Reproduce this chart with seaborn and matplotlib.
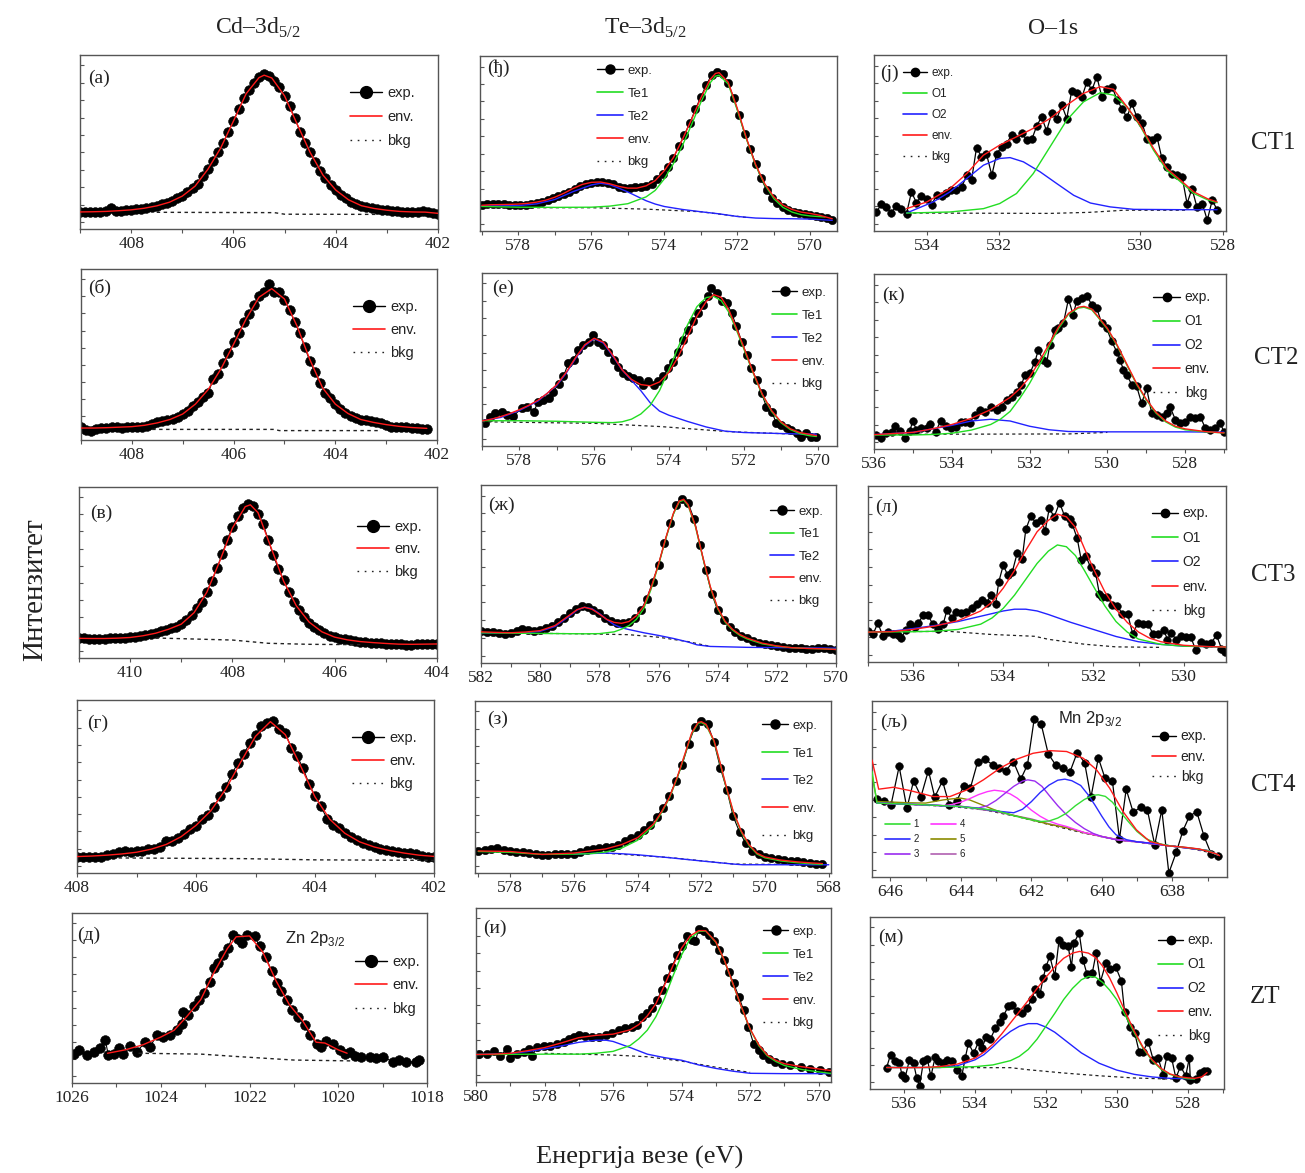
import numpy as np
import matplotlib
matplotlib.use("Agg")
import matplotlib.pyplot as plt
from matplotlib.lines import Line2D
from matplotlib.ticker import MultipleLocator, FixedLocator
import seaborn as sns

# ---------------- Cd-3d5/2 ----------------
A_RANGE = (409.0, 402.0)
A_EXP = [9.8, 9.8, 9.9, 9.9, 10.0, 10.1, 11.8, 10.5, 10.6, 10.8,
         11.1, 11.4, 11.7, 12.1, 12.7, 13.4, 14.1, 15.0, 16.0, 17.6,
         19.2, 21.0, 23.4, 26.0, 30.4, 34.4, 38.9, 44.2, 49.3, 55.8,
         62.2, 68.8, 75.1, 79.9, 84.0, 87.5, 88.9, 88.2, 85.0, 81.8,
         76.5, 70.5, 63.8, 56.0, 49.2, 44.0, 38.6, 33.5, 29.1, 25.2,
         22.2, 19.6, 17.6, 15.5, 14.1, 13.3, 12.5, 12.0, 11.5, 11.1,
         10.8, 10.5, 10.2, 10.0, 9.8, 9.8, 9.8, 10.3, 9.6, 9.1,
         8.8]
A_ENV = [(409.0, 9.8), (408.75, 9.9), (408.5, 10.1), (408.25, 10.5), (408.0, 11.0), (407.75, 11.9),
         (407.5, 13.3), (407.25, 15.4), (407.0, 18.9), (406.75, 24.6), (406.5, 34.3), (406.25, 46.5),
         (406.0, 62.0), (405.75, 77.8), (405.5, 87.0), (405.4, 88.4), (405.25, 86.8), (405.0, 76.5),
         (404.75, 60.0), (404.5, 44.0), (404.25, 31.0), (404.0, 22.4), (403.75, 16.8), (403.5, 13.4),
         (403.25, 11.8), (403.0, 10.8), (402.75, 10.1), (402.5, 9.8), (402.25, 9.7), (402.0, 9.0)]
A_BKG = [(407.5, 9.6), (405.2, 9.4), (405.0, 8.5), (403.2, 8.4)]

B_RANGE = (409.0, 402.2)
B_EXP = [7.8, 6.0, 5.5, 6.2, 6.8, 7.0, 7.6, 7.8, 7.2, 7.6,
         7.4, 7.8, 7.6, 8.4, 9.4, 10.7, 11.0, 11.7, 12.4, 13.4,
         15.0, 17.2, 19.8, 22.2, 25.4, 27.3, 35.8, 38.4, 44.8, 51.1,
         57.5, 62.8, 69.0, 73.8, 79.2, 84.0, 86.5, 91.0, 86.8, 86.7,
         82.0, 76.0, 69.2, 62.4, 54.2, 46.2, 39.5, 33.6, 27.6, 24.7,
         20.8, 18.2, 16.0, 14.3, 13.0, 11.8, 11.5, 11.2, 10.8, 10.0,
         8.6, 7.8, 7.6, 7.4, 7.4, 7.0, 6.8, 6.5, 6.2]
B_ENV = [(409.0, 7.0), (408.75, 7.0), (408.5, 7.2), (408.25, 7.5), (408.0, 7.8), (407.75, 8.6),
         (407.5, 10.0), (407.25, 12.0), (407.0, 15.2), (406.75, 21.0), (406.5, 29.5), (406.25, 41.5),
         (406.0, 56.0), (405.75, 71.0), (405.5, 83.5), (405.25, 88.5), (405.0, 82.5), (404.75, 66.5),
         (404.5, 47.0), (404.25, 30.5), (404.0, 21.0), (403.75, 15.5), (403.5, 12.0), (403.25, 10.3),
         (403.0, 9.0), (402.75, 8.0), (402.5, 7.3), (402.2, 6.8)]
B_BKG = [(407.6, 6.2), (405.2, 6.2), (405.1, 5.5), (403.1, 5.5)]

V_RANGE = (411.0, 404.0)
V_EXP = [11.7, 11.5, 11.4, 11.3, 11.1, 11.3, 11.5, 11.5, 11.7, 11.8,
         12.0, 12.4, 12.8, 13.3, 14.0, 14.6, 15.5, 16.5, 17.3, 18.4,
         19.6, 22.0, 25.2, 29.1, 33.0, 38.8, 45.3, 52.5, 61.0, 69.2,
         76.8, 83.0, 87.5, 90.3, 88.6, 84.2, 78.5, 69.0, 60.0, 52.0,
         45.6, 38.8, 33.0, 28.0, 24.0, 20.6, 18.0, 16.2, 14.4, 13.0,
         12.1, 11.4, 10.9, 10.4, 10.0, 9.6, 9.2, 9.0, 8.8, 8.6,
         8.4, 8.3, 8.1, 7.9, 7.6, 7.8, 8.0, 8.0, 8.1, 8.2,
         8.2]
V_ENV = [(411.0, 11.5), (410.75, 11.4), (410.5, 11.4), (410.25, 11.6), (410.0, 12.0), (409.75, 13.0),
         (409.5, 14.5), (409.25, 16.8), (409.0, 19.8), (408.75, 26.5), (408.5, 38.5), (408.25, 56.5),
         (408.0, 76.0), (407.75, 88.5), (407.65, 89.6), (407.5, 85.0), (407.25, 65.0), (407.0, 45.0),
         (406.75, 30.5), (406.5, 21.0), (406.25, 15.3), (406.0, 12.2), (405.75, 10.6), (405.5, 9.6),
         (405.25, 9.0), (405.0, 8.5), (404.75, 8.1), (404.5, 8.0), (404.25, 8.1), (404.0, 8.2)]
V_BKG = [(409.5, 11.7), (408.0, 10.5), (407.3, 8.6), (406.5, 8.0), (405.5, 7.8)]

G_RANGE = (408.0, 402.0)
G_EXP = [9.2, 9.0, 9.0, 9.2, 9.0, 10.2, 11.0, 12.0, 12.6, 12.4,
         12.5, 13.0, 13.6, 13.9, 15.0, 18.3, 18.5, 20.0, 22.5, 25.2,
         27.3, 31.2, 33.8, 38.0, 44.5, 50.0, 57.0, 63.5, 68.5, 75.0,
         80.0, 85.0, 86.6, 88.0, 83.5, 81.0, 72.5, 67.5, 60.5, 51.5,
         44.5, 38.5, 31.5, 27.6, 26.0, 23.0, 20.8, 19.0, 17.5, 16.0,
         14.8, 14.0, 13.5, 13.0, 12.2, 11.5, 11.6, 11.2, 9.8, 9.4,
         9.2]
G_ENV = [(408.0, 9.5), (407.75, 9.8), (407.5, 10.3), (407.25, 11.0), (407.0, 12.0), (406.75, 13.8),
         (406.5, 16.5), (406.25, 21.0), (406.0, 27.5), (405.75, 36.0), (405.5, 48.5), (405.25, 64.0),
         (405.0, 79.0), (404.75, 87.5), (404.5, 80.0), (404.25, 62.5), (404.0, 44.0), (403.75, 31.0),
         (403.5, 23.0), (403.25, 18.0), (403.0, 15.0), (402.75, 13.0), (402.5, 11.5), (402.25, 10.3),
         (402.0, 9.6)]
G_BKG = [(407.3, 8.7), (405.2, 8.3), (404.0, 7.6), (402.0, 7.3)]

D_EXP = [(1025.96, 16.9), (1025.85, 19.3), (1025.66, 16.3), (1025.51, 18.3), (1025.36, 20.3),
         (1025.25, 25.2), (1025.18, 16.3), (1025.06, 16.9), (1024.95, 20.3), (1024.84, 17.3),
         (1024.69, 21.7), (1024.54, 18.3), (1024.35, 24.2), (1024.24, 21.3), (1024.09, 28.1),
         (1023.94, 27.2), (1023.79, 28.1), (1023.64, 31.1), (1023.53, 35.0), (1023.49, 41.9),
         (1023.38, 40.0), (1023.26, 45.3), (1023.13, 48.8), (1023.02, 52.8), (1022.89, 59.6),
         (1022.81, 67.5), (1022.70, 70.5), (1022.59, 75.4), (1022.48, 79.3), (1022.38, 87.2),
         (1022.27, 84.6), (1022.18, 82.3), (1022.06, 87.2), (1021.88, 86.2), (1021.77, 80.3),
         (1021.63, 74.0), (1021.50, 65.6), (1021.37, 58.7), (1021.28, 54.3), (1021.16, 48.8),
         (1021.05, 42.9), (1020.90, 38.6), (1020.75, 34.1), (1020.64, 28.1), (1020.49, 23.2),
         (1020.38, 21.3), (1020.27, 24.8), (1020.12, 23.2), (1019.97, 19.7), (1019.85, 17.3),
         (1019.74, 18.3), (1019.63, 15.7), (1019.48, 15.4), (1019.29, 15.4), (1019.14, 15.0),
         (1018.99, 15.4), (1018.77, 12.4), (1018.62, 13.4), (1018.47, 12.4), (1018.25, 12.4),
         (1018.17, 13.8)]
D_ENV = [(1025.2, 17.5), (1024.8, 19.5), (1024.4, 22.5), (1024.0, 27.0), (1023.7, 31.0), (1023.4, 39.5),
         (1023.1, 49.0), (1022.8, 65.0), (1022.5, 79.0), (1022.3, 86.0), (1022.0, 86.5), (1021.7, 77.0),
         (1021.4, 60.0), (1021.1, 46.0), (1020.8, 36.5), (1020.5, 24.0), (1020.3, 23.5), (1020.0, 19.5),
         (1019.8, 17.5)]
D_BKG = [(1024.5, 17.5), (1023.1, 17.0), (1022.3, 15.6), (1021.0, 13.5), (1019.7, 13.0)]

# ---------------- Te-3d5/2 ----------------
DJ_RANGE = (579.0, 569.4)
DJ_EXP = [14.7, 15.3, 15.5, 15.3, 15.2, 15.1, 15.0, 15.0, 15.1, 15.3,
          16.1, 16.8, 17.6, 18.6, 20.0, 21.3, 22.3, 24.0, 25.6, 27.0,
          27.6, 28.0, 28.0, 27.4, 26.6, 25.2, 24.5, 24.3, 25.0, 25.3,
          25.5, 26.8, 29.5, 32.8, 36.5, 41.8, 48.5, 55.0, 61.8, 69.5,
          76.6, 83.5, 89.4, 90.9, 89.6, 84.5, 76.0, 66.0, 55.5, 47.0,
          38.5, 30.0, 23.5, 18.8, 15.8, 13.8, 12.2, 10.8, 10.1, 9.6,
          9.2, 8.7, 8.0, 7.2, 6.3]
DJ_ENV = [(579.0, 14.7), (578.75, 15.0), (578.5, 15.1), (578.25, 15.2), (578.0, 15.4), (577.75, 15.8),
          (577.5, 16.5), (577.25, 17.6), (577.0, 19.3), (576.75, 21.6), (576.5, 24.3), (576.25, 26.6),
          (576.0, 27.8), (575.75, 28.0), (575.5, 27.0), (575.25, 25.5), (575.0, 24.5), (574.75, 24.5),
          (574.5, 25.8), (574.25, 28.8), (574.0, 34.5), (573.75, 42.0), (573.5, 52.5), (573.25, 64.0),
          (573.0, 76.0), (572.75, 86.5), (572.6, 90.0), (572.5, 90.5), (572.25, 85.0), (572.0, 70.0),
          (571.75, 53.0), (571.5, 38.0), (571.25, 27.0), (571.0, 19.5), (570.75, 14.8), (570.5, 12.3),
          (570.25, 10.8), (570.0, 10.0), (569.75, 9.0), (569.4, 7.0)]
DJ_TE1 = [(579.0, 14.0), (578.0, 13.6), (577.0, 13.5), (576.0, 13.6), (575.5, 14.2), (575.0, 15.6),
          (574.5, 19.5), (574.25, 23.2), (574.0, 29.8), (573.75, 38.5), (573.5, 49.0), (573.25, 61.0),
          (573.0, 73.5), (572.75, 84.5), (572.6, 88.5), (572.5, 89.0), (572.25, 84.0), (572.0, 69.0),
          (571.75, 52.5), (571.5, 37.5), (571.25, 26.5), (571.0, 18.5), (570.75, 13.5), (570.5, 10.8),
          (570.25, 9.3), (570.0, 8.6), (569.6, 8.0)]
DJ_TE2 = [(579.0, 14.3), (578.0, 14.5), (577.5, 15.5), (577.0, 18.0), (576.5, 22.5), (576.0, 26.3),
          (575.75, 27.3), (575.5, 26.5), (575.25, 24.5), (575.0, 22.3), (574.75, 19.8), (574.5, 17.3),
          (574.25, 15.4), (574.0, 14.0), (573.5, 12.3), (573.0, 11.0), (572.5, 9.8), (572.0, 8.3),
          (571.5, 7.4), (571.0, 7.1), (570.5, 7.0), (570.0, 6.8), (569.4, 6.1)]
DJ_BKG = [(578.0, 13.3), (576.0, 13.3), (574.5, 12.5), (573.0, 11.0), (571.7, 7.6)]

E_EXP = [(578.91, 13.1), (578.78, 17.0), (578.64, 18.9), (578.47, 19.9), (578.33, 18.0), (578.16, 17.4),
         (577.94, 21.8), (577.80, 22.8), (577.62, 19.9), (577.49, 25.7), (577.36, 26.6), (577.22, 27.6),
         (577.09, 31.5), (576.95, 35.9), (576.82, 40.2), (576.69, 47.9), (576.55, 49.8), (576.42, 55.6),
         (576.29, 58.5), (576.15, 60.4), (576.02, 64.3), (575.89, 60.4), (575.75, 58.5), (575.62, 54.6),
         (575.48, 49.8), (575.35, 45.9), (575.22, 42.1), (575.08, 40.2), (574.95, 39.2), (574.81, 38.2),
         (574.68, 35.3), (574.55, 37.3), (574.41, 35.3), (574.28, 37.3), (574.15, 40.2), (574.01, 45.0),
         (573.88, 48.8), (573.75, 54.6), (573.61, 61.4), (573.48, 67.2), (573.35, 72.0), (573.21, 76.8),
         (573.08, 81.7), (572.94, 86.5), (572.86, 91.3), (572.72, 88.4), (572.59, 83.6), (572.45, 82.6),
         (572.32, 76.8), (572.19, 69.1), (572.05, 60.4), (571.92, 52.7), (571.79, 45.0), (571.65, 38.2),
         (571.52, 30.5), (571.39, 22.8), (571.25, 19.9), (571.12, 13.1), (570.99, 12.2), (570.85, 10.2),
         (570.72, 9.3), (570.58, 7.7), (570.45, 5.4), (570.32, 7.3), (570.19, 5.4), (570.05, 5.0)]
E_ENV = [(579.0, 14.5), (578.75, 15.5), (578.5, 17.0), (578.25, 18.8), (578.0, 21.0), (577.75, 23.5),
         (577.5, 26.5), (577.25, 30.5), (577.0, 35.5), (576.75, 42.5), (576.5, 51.0), (576.25, 58.5),
         (576.0, 62.3), (575.75, 60.0), (575.5, 52.5), (575.25, 44.0), (575.0, 38.5), (574.75, 35.5),
         (574.5, 34.8), (574.25, 37.0), (574.0, 42.5), (573.75, 51.5), (573.5, 63.0), (573.25, 75.0),
         (573.0, 83.5), (572.8, 87.5), (572.6, 86.0), (572.4, 79.0), (572.2, 68.5), (572.0, 57.5),
         (571.75, 43.0), (571.5, 30.0), (571.25, 20.5), (571.0, 14.0), (570.75, 10.0), (570.5, 7.8),
         (570.25, 6.8), (570.05, 6.0)]
E_TE1 = [(579.0, 14.6), (578.0, 14.6), (577.0, 14.3), (576.0, 13.7), (575.5, 13.5), (575.25, 14.0),
         (575.0, 15.5), (574.75, 18.5), (574.5, 23.5), (574.25, 32.0), (574.0, 44.0), (573.75, 57.0),
         (573.5, 70.0), (573.25, 80.5), (573.0, 85.8), (572.8, 86.5), (572.6, 84.0), (572.4, 77.5),
         (572.2, 67.5), (572.0, 56.5), (571.75, 42.5), (571.5, 29.5), (571.25, 20.0), (571.0, 13.5),
         (570.75, 9.5), (570.5, 7.2), (570.25, 6.0), (570.05, 5.5)]
E_TE2 = [(579.0, 14.5), (578.5, 16.5), (578.0, 20.5), (577.5, 26.0), (577.0, 35.0), (576.75, 42.0),
         (576.5, 50.5), (576.25, 58.0), (576.0, 62.0), (575.75, 59.5), (575.5, 52.0), (575.25, 44.0),
         (575.0, 38.0), (574.75, 32.0), (574.5, 25.0), (574.25, 20.2), (574.0, 17.8), (573.5, 14.2),
         (573.0, 11.0), (572.5, 8.6), (572.0, 7.8), (571.0, 7.2), (570.05, 6.8)]
E_BKG = [(579.0, 14.0), (576.0, 13.1), (574.2, 11.2), (572.4, 8.3), (570.7, 6.9), (570.1, 6.5)]

ZH_RANGE = (582.0, 570.0)
ZH_EXP = [17.8, 17.5, 17.2, 16.9, 16.5, 16.6, 17.8, 19.0, 18.6, 18.2,
          18.6, 19.5, 21.0, 23.0, 25.5, 28.0, 30.4, 31.8, 31.5, 30.0,
          28.0, 25.5, 23.4, 22.4, 22.4, 23.0, 25.2, 29.5, 36.0, 45.5,
          55.1, 67.5, 78.5, 88.5, 92.3, 89.9, 81.0, 66.5, 52.0, 39.0,
          29.5, 24.2, 20.0, 17.2, 15.4, 14.0, 12.5, 11.3, 10.6, 9.9,
          9.3, 8.9, 8.6, 8.4, 8.2, 8.0, 7.9, 8.2, 8.5, 8.0,
          7.5]
ZH_ENV = [(582.0, 17.5), (581.5, 17.2), (581.0, 17.0), (580.5, 17.4), (580.0, 18.2), (579.5, 21.0),
          (579.0, 27.0), (578.75, 30.0), (578.5, 31.3), (578.25, 30.2), (578.0, 27.5), (577.75, 24.5),
          (577.5, 22.8), (577.25, 22.3), (577.0, 23.3), (576.75, 26.5), (576.5, 32.0), (576.25, 42.5),
          (576.0, 55.5), (575.75, 70.5), (575.5, 84.0), (575.3, 91.0), (575.15, 92.0), (575.0, 89.0),
          (574.75, 77.0), (574.5, 59.5), (574.25, 43.0), (574.0, 31.0), (573.75, 23.5), (573.5, 19.0),
          (573.25, 16.0), (573.0, 14.0), (572.5, 11.2), (572.0, 9.6), (571.5, 8.6), (571.0, 8.2),
          (570.5, 8.0), (570.0, 7.6)]
ZH_TE1 = [(582.0, 17.0), (580.0, 16.6), (578.5, 16.4), (578.0, 16.5), (577.5, 17.5), (577.25, 19.0),
          (577.0, 21.0), (576.75, 24.5), (576.5, 30.5), (576.25, 41.5), (576.0, 55.0), (575.75, 70.0),
          (575.5, 83.5), (575.3, 90.5), (575.15, 91.5), (575.0, 88.5), (574.75, 76.5), (574.5, 59.0),
          (574.25, 42.5), (574.0, 30.5), (573.75, 23.0), (573.5, 18.5), (573.25, 15.5), (573.0, 13.5),
          (572.5, 10.8), (572.0, 9.4), (571.5, 8.6), (571.0, 8.2), (570.5, 8.0), (570.0, 7.6)]
ZH_TE2 = [(582.0, 17.0), (580.5, 17.0), (580.0, 17.8), (579.5, 20.5), (579.0, 26.5), (578.75, 29.8),
          (578.5, 31.3), (578.25, 30.5), (578.0, 27.8), (577.75, 24.5), (577.5, 21.5), (577.25, 19.8),
          (577.0, 18.8), (576.5, 17.0), (576.0, 15.5), (575.5, 13.8), (575.0, 11.8), (574.7, 10.2),
          (574.25, 9.3), (573.0, 8.8), (571.5, 8.6), (570.0, 8.3)]
ZH_BKG = [(582.0, 17.0), (578.5, 16.4), (577.0, 15.9), (576.0, 14.5), (575.0, 12.0), (574.3, 9.5)]

Z_RANGE = (579.0, 568.2)
Z_EXP = [12.8, 13.3, 14.0, 14.4, 13.5, 12.8, 12.5, 12.2, 11.6, 11.1,
         10.6, 10.4, 10.8, 11.2, 11.2, 11.2, 12.2, 13.6, 14.0, 14.4,
         15.0, 15.4, 16.5, 18.5, 20.2, 22.3, 24.8, 27.8, 32.6, 38.0,
         44.5, 53.5, 63.0, 75.0, 85.0, 88.4, 86.5, 76.0, 61.0, 48.5,
         33.0, 23.8, 17.2, 13.0, 10.8, 9.4, 8.5, 8.0, 7.6, 7.2,
         7.0, 6.6, 6.0, 5.4, 5.5]
Z_ENV = [(579.0, 12.8), (578.0, 12.5), (577.0, 10.8), (576.0, 11.6), (575.5, 12.8), (575.0, 14.0),
         (574.5, 16.5), (574.0, 20.5), (573.5, 28.5), (573.25, 35.5), (573.0, 44.0), (572.75, 56.0),
         (572.5, 70.0), (572.3, 81.5), (572.1, 87.5), (572.0, 88.0), (571.85, 86.5), (571.6, 77.0),
         (571.4, 63.5), (571.2, 49.0), (571.0, 36.0), (570.75, 24.5), (570.5, 16.5), (570.25, 11.5),
         (570.0, 9.3), (569.5, 7.5), (569.0, 6.5), (568.5, 5.8), (568.2, 5.5)]
Z_TE1 = [(579.0, 12.5), (578.0, 12.0), (577.0, 10.8), (576.0, 11.0), (575.5, 11.2), (575.0, 12.2),
         (574.5, 14.5), (574.0, 19.0), (573.5, 27.5), (573.25, 35.0), (573.0, 43.5), (572.75, 55.5),
         (572.5, 69.5), (572.3, 81.0), (572.1, 87.0), (572.0, 87.5), (571.85, 86.0), (571.6, 76.5),
         (571.4, 63.0), (571.2, 48.5), (571.0, 35.5), (570.75, 24.0), (570.5, 16.0), (570.25, 11.0),
         (570.0, 8.8), (569.5, 7.0), (569.0, 6.0), (568.5, 5.3), (568.2, 5.0)]
Z_TE2 = [(576.0, 11.0), (575.0, 11.6), (574.5, 11.2), (574.0, 10.6), (573.0, 8.9), (572.0, 7.0),
         (571.0, 5.2), (570.7, 4.8), (568.0, 4.8)]
Z_BKG = [(575.0, 11.5), (573.0, 9.0), (571.0, 5.2), (568.0, 4.8)]

I_EXP = [(579.92, 16.0), (579.68, 16.0), (579.48, 17.9), (579.29, 14.8), (579.10, 19.2), (579.00, 14.0),
         (578.80, 16.3), (578.61, 17.3), (578.46, 18.7), (578.37, 14.8), (578.22, 20.2), (578.03, 20.6),
         (577.83, 20.6), (577.64, 21.7), (577.44, 23.1), (577.30, 25.0), (577.15, 26.0), (577.00, 26.9),
         (576.81, 26.3), (576.61, 26.0), (576.42, 26.0), (576.22, 26.9), (576.03, 27.9), (575.84, 29.8),
         (575.64, 30.8), (575.45, 31.7), (575.30, 32.7), (575.16, 37.5), (575.01, 39.4), (574.86, 42.3),
         (574.72, 47.1), (574.57, 52.9), (574.43, 59.6), (574.28, 66.3), (574.13, 73.1), (573.99, 77.9),
         (573.84, 83.7), (573.70, 81.7), (573.60, 80.8), (573.50, 87.9), (573.36, 86.5), (573.21, 84.6),
         (573.06, 80.8), (572.92, 76.0), (572.77, 70.2), (572.63, 63.5), (572.48, 56.7), (572.33, 49.0),
         (572.19, 41.3), (572.05, 31.7), (571.90, 22.1), (571.75, 18.3), (571.61, 15.4), (571.46, 13.5),
         (571.26, 11.5), (571.07, 10.2), (570.83, 9.6), (570.53, 8.7), (570.24, 7.7), (569.95, 7.1),
         (569.71, 5.8)]
I_ENV = [(580.0, 15.8), (579.5, 16.0), (579.0, 16.5), (578.5, 18.0), (578.0, 19.8), (577.5, 22.5),
         (577.0, 25.5), (576.5, 26.8), (576.0, 27.5), (575.5, 30.0), (575.25, 33.0), (575.0, 38.0),
         (574.75, 45.0), (574.5, 55.5), (574.25, 67.0), (574.0, 77.0), (573.75, 84.0), (573.5, 87.0),
         (573.3, 87.0), (573.0, 80.5), (572.75, 70.0), (572.5, 56.5), (572.25, 43.0), (572.0, 30.5),
         (571.75, 21.5), (571.5, 15.5), (571.25, 12.5), (571.0, 10.5), (570.5, 8.8), (570.0, 7.5),
         (569.6, 6.5)]
I_TE1 = [(580.0, 15.8), (578.0, 16.0), (577.0, 16.0), (576.5, 16.5), (576.0, 17.6), (575.5, 21.0),
         (575.25, 24.8), (575.0, 29.8), (574.75, 37.5), (574.5, 48.0), (574.25, 61.0), (574.0, 73.0),
         (573.75, 82.5), (573.5, 86.5), (573.3, 86.8), (573.0, 80.3), (572.75, 69.8), (572.5, 56.3),
         (572.25, 42.8), (572.0, 30.3), (571.75, 21.0), (571.5, 15.0), (571.25, 11.8), (571.0, 9.5),
         (570.5, 7.2), (570.0, 5.8), (569.6, 4.8)]
I_TE2 = [(580.0, 15.8), (579.0, 16.3), (578.5, 17.5), (578.0, 19.0), (577.5, 20.8), (577.0, 22.8),
         (576.5, 24.0), (576.2, 24.0), (576.0, 23.3), (575.5, 19.8), (575.0, 16.0), (574.5, 14.0),
         (574.0, 12.5), (573.5, 9.8), (573.0, 7.8), (572.5, 6.2), (572.0, 5.0), (571.0, 4.8),
         (569.6, 4.8)]
I_BKG = [(578.0, 16.5), (576.0, 15.5), (575.0, 14.5), (574.0, 12.0), (573.0, 8.5), (572.0, 5.5)]

# ---------------- O-1s ----------------
J_EXP = [(535.02, 10.8), (534.92, 15.2), (534.82, 13.7), (534.72, 10.4), (534.62, 14.0), (534.52, 12.7),
         (534.41, 9.9), (534.31, 22.2), (534.21, 16.1), (534.11, 19.7), (534.00, 18.4), (533.90, 15.0),
         (533.80, 20.3), (533.70, 19.9), (533.60, 21.6), (533.50, 23.5), (533.40, 23.1), (533.29, 25.0),
         (533.19, 31.7), (533.09, 29.2), (532.99, 47.4), (532.89, 42.1), (532.79, 44.0), (532.68, 31.7),
         (532.58, 44.0), (532.48, 47.8), (532.38, 49.7), (532.28, 54.5), (532.18, 52.0), (532.07, 55.4),
         (531.97, 51.6), (531.87, 52.0), (531.77, 59.6), (531.67, 64.9), (531.57, 56.9), (531.46, 67.2),
         (531.36, 63.9), (531.26, 71.5), (531.16, 63.9), (531.06, 79.7), (530.96, 78.2), (530.85, 76.3),
         (530.75, 84.8), (530.65, 80.1), (530.55, 87.7), (530.45, 76.3), (530.35, 80.5), (530.24, 82.0),
         (530.14, 74.4), (530.04, 69.6), (529.94, 64.5), (529.84, 72.5), (529.74, 64.9), (529.63, 61.1),
         (529.53, 52.0), (529.43, 51.6), (529.33, 53.5), (529.23, 41.2), (529.13, 36.4), (529.02, 32.6),
         (528.92, 31.7), (528.82, 30.7), (528.72, 15.6), (528.62, 24.1), (528.52, 13.7), (528.41, 15.6),
         (528.31, 6.1), (528.21, 17.5), (528.11, 12.1)]
J_ENV = [(534.41, 12.7), (534.0, 16.5), (533.53, 24.1), (533.19, 32.6), (532.85, 43.1), (532.52, 48.8),
         (532.18, 53.5), (531.84, 58.3), (531.5, 63.9), (531.16, 71.5), (530.82, 78.2), (530.48, 82.0),
         (530.21, 80.5), (529.94, 70.6), (529.67, 60.2), (529.4, 46.9), (529.13, 35.5), (528.85, 28.8),
         (528.58, 22.2), (528.31, 18.4), (528.11, 16.5)]
J_O1 = [(534.41, 10.2), (533.53, 10.8), (532.85, 12.7), (532.52, 15.6), (532.18, 21.3), (531.84, 32.6),
        (531.5, 47.8), (531.16, 63.0), (530.82, 73.4), (530.48, 78.6), (530.21, 77.2), (529.94, 70.6),
        (529.67, 59.6), (529.4, 45.9), (529.13, 34.5), (528.85, 27.9), (528.58, 21.3), (528.31, 17.8),
        (528.11, 16.1)]
J_O2 = [(534.41, 10.2), (533.87, 16.5), (533.53, 22.2), (533.19, 29.8), (532.85, 37.4), (532.52, 41.2),
        (532.31, 41.7), (532.04, 39.3), (531.7, 33.6), (531.36, 26.9), (531.02, 20.3), (530.68, 15.9),
        (530.28, 13.7), (529.8, 12.3), (528.79, 12.1), (528.11, 12.1)]
J_BKG = [(534.4, 10.2), (531.5, 10.0), (530.7, 10.6), (530.0, 11.8), (528.7, 11.8)]

K_EXP = [(535.94, 8.0), (535.81, 6.1), (535.68, 9.0), (535.55, 9.9), (535.47, 13.2), (535.34, 10.5),
         (535.21, 6.1), (535.08, 10.5), (535.00, 16.0), (534.91, 10.9), (534.78, 11.8), (534.65, 11.8),
         (534.57, 14.3), (534.41, 9.9), (534.29, 16.0), (534.16, 13.2), (534.03, 11.8), (533.90, 12.8),
         (533.77, 15.6), (533.67, 15.6), (533.54, 14.7), (533.41, 19.5), (533.28, 22.3), (533.15, 21.4),
         (532.98, 24.2), (532.85, 22.3), (532.72, 24.2), (532.59, 28.1), (532.46, 30.0), (532.33, 32.8),
         (532.21, 36.6), (532.12, 42.4), (531.99, 43.3), (531.86, 50.0), (531.78, 56.3), (531.65, 51.0),
         (531.56, 49.4), (531.48, 59.5), (531.35, 68.1), (531.26, 69.1), (531.13, 71.9), (531.00, 85.7),
         (530.88, 76.7), (530.79, 84.4), (530.66, 86.3), (530.53, 87.6), (530.40, 82.4), (530.27, 80.5),
         (530.15, 71.9), (530.02, 69.1), (529.89, 61.5), (529.76, 55.7), (529.67, 51.0), (529.59, 45.2),
         (529.50, 42.4), (529.37, 36.6), (529.25, 36.1), (529.12, 26.1), (528.99, 34.7), (528.86, 20.4),
         (528.73, 19.5), (528.60, 18.5), (528.47, 20.4), (528.39, 24.2), (528.25, 16.6), (528.13, 15.1),
         (528.00, 15.6), (527.87, 18.5), (527.74, 17.6), (527.61, 18.5), (527.48, 11.8), (527.36, 10.9),
         (527.23, 11.8), (527.10, 14.7), (527.00, 9.9)]
K_ENV = [(536.0, 8.2), (535.0, 9.5), (534.5, 11.5), (534.0, 14.0), (533.5, 17.5), (533.0, 22.5),
         (532.5, 29.5), (532.25, 34.5), (532.0, 41.0), (531.75, 50.0), (531.5, 60.0), (531.25, 70.0),
         (531.0, 77.5), (530.75, 81.0), (530.6, 81.5), (530.4, 80.0), (530.25, 76.0), (530.0, 69.0),
         (529.75, 59.5), (529.5, 48.5), (529.25, 37.5), (529.0, 28.5), (528.75, 21.0), (528.5, 16.0),
         (528.25, 13.0), (528.0, 11.5), (527.5, 10.0), (527.0, 9.2)]
K_O1 = [(536.0, 8.0), (535.0, 8.0), (534.5, 8.3), (534.0, 9.0), (533.5, 10.8), (533.0, 14.0),
        (532.75, 17.0), (532.5, 21.5), (532.25, 29.0), (532.0, 37.5), (531.75, 47.5), (531.5, 58.5),
        (531.25, 69.0), (531.0, 77.0), (530.75, 80.5), (530.6, 81.0), (530.4, 79.5), (530.25, 75.5),
        (530.0, 68.5), (529.75, 59.0), (529.5, 48.0), (529.25, 37.0), (529.0, 28.0), (528.75, 20.5),
        (528.5, 15.5), (528.25, 12.5), (528.0, 11.0), (527.5, 9.8), (527.0, 9.2)]
K_O2 = [(536.0, 8.2), (535.0, 9.5), (534.5, 11.5), (534.0, 13.5), (533.5, 16.0), (533.0, 17.0),
        (532.5, 16.0), (532.0, 13.0), (531.5, 11.0), (531.0, 10.0), (530.0, 9.8), (528.0, 9.8),
        (527.0, 9.6)]
K_BKG = [(535.5, 8.4), (531.0, 8.6), (530.0, 9.5)]

L_EXP = [(537.00, 17.6), (536.89, 15.7), (536.78, 22.2), (536.67, 14.6), (536.56, 17.1), (536.44, 15.7),
         (536.33, 15.2), (536.26, 13.9), (536.15, 18.4), (536.07, 21.4), (535.96, 19.9), (535.89, 22.2),
         (535.77, 26.6), (535.67, 26.6), (535.56, 21.4), (535.44, 19.0), (535.33, 21.8), (535.25, 29.4),
         (535.14, 25.2), (535.04, 28.5), (534.93, 27.9), (534.82, 28.5), (534.70, 30.9), (534.59, 32.8),
         (534.48, 35.1), (534.36, 33.6), (534.28, 38.0), (534.17, 32.8), (534.10, 45.5), (534.00, 55.0),
         (533.90, 49.3), (533.80, 51.2), (533.69, 62.0), (533.58, 58.8), (533.50, 75.3), (533.39, 82.9),
         (533.28, 79.1), (533.16, 80.6), (533.07, 74.6), (532.98, 87.3), (532.87, 82.5), (532.75, 90.5),
         (532.64, 82.9), (532.53, 81.0), (532.47, 78.4), (532.36, 70.2), (532.27, 57.9), (532.17, 60.2),
         (532.06, 53.7), (531.95, 50.3), (531.87, 38.9), (531.80, 37.0), (531.69, 37.0), (531.58, 32.3),
         (531.47, 31.7), (531.36, 27.5), (531.24, 27.1), (531.13, 16.1), (531.01, 22.2), (530.90, 21.4),
         (530.79, 21.4), (530.67, 15.7), (530.56, 15.7), (530.44, 18.4), (530.36, 12.7), (530.27, 16.5),
         (530.17, 12.7), (530.06, 14.6), (529.95, 14.2), (529.84, 14.2), (529.73, 6.6), (529.61, 11.4),
         (529.50, 10.1), (529.39, 10.8), (529.27, 15.2), (529.16, 7.6), (529.09, 5.7)]
L_ENV = [(537.0, 17.0), (536.5, 17.2), (536.0, 18.5), (535.5, 20.5), (535.0, 23.5), (534.5, 29.0),
         (534.25, 34.0), (534.0, 42.0), (533.75, 52.0), (533.5, 63.5), (533.25, 74.0), (533.0, 80.5),
         (532.8, 84.0), (532.6, 82.5), (532.4, 76.5), (532.2, 64.5), (532.0, 53.0), (531.75, 40.0),
         (531.5, 30.0), (531.25, 22.5), (531.0, 17.0), (530.75, 13.5), (530.5, 11.5), (530.0, 9.5),
         (529.5, 8.8), (529.06, 8.5)]
L_O1 = [(537.0, 17.0), (536.0, 17.2), (535.5, 17.5), (535.0, 18.5), (534.5, 21.5), (534.25, 25.0),
        (534.0, 30.5), (533.75, 38.0), (533.5, 47.0), (533.25, 56.0), (533.0, 63.0), (532.8, 66.5),
        (532.6, 65.5), (532.4, 60.5), (532.2, 52.0), (532.0, 43.0), (531.75, 32.0), (531.5, 23.0),
        (531.25, 17.0), (531.0, 13.0), (530.5, 10.0), (530.0, 9.0), (529.06, 8.5)]
L_O2 = [(537.0, 17.0), (536.5, 17.4), (536.0, 19.0), (535.5, 20.8), (535.0, 23.0), (534.5, 26.0),
        (534.0, 29.0), (533.75, 30.0), (533.5, 30.0), (533.25, 29.0), (533.0, 27.0), (532.5, 22.5),
        (532.0, 18.5), (531.5, 14.5), (531.0, 11.5), (530.5, 10.0), (530.0, 9.0), (529.06, 8.5)]
L_BKG = [(536.0, 17.3), (535.2, 17.4), (534.3, 15.7), (533.3, 14.6), (533.0, 12.9), (532.2, 10.1),
         (531.5, 8.6), (530.5, 8.3)]

LJ_EXP = [(646.38, 44.2), (646.19, 42.9), (645.98, 41.0), (645.75, 62.8), (645.53, 39.1), (645.34, 54.6),
          (645.13, 45.7), (644.92, 60.5), (644.74, 45.4), (644.52, 54.6), (644.33, 41.0), (644.12, 42.9),
          (643.92, 51.8), (643.73, 50.5), (643.52, 65.6), (643.31, 66.9), (643.10, 63.7), (642.92, 61.8),
          (642.73, 60.3), (642.51, 65.6), (642.30, 55.6), (642.11, 63.7), (641.92, 89.6), (641.72, 86.8),
          (641.52, 69.9), (641.31, 63.7), (641.10, 61.8), (640.91, 59.4), (640.70, 70.7), (640.49, 65.0),
          (640.31, 45.2), (640.10, 67.7), (639.91, 56.1), (639.70, 54.3), (639.50, 21.6), (639.31, 49.9),
          (639.11, 36.7), (638.90, 39.7), (638.71, 38.2), (638.50, 18.3), (638.30, 38.2), (638.10, 2.3),
          (637.89, 14.0), (637.70, 26.3), (637.52, 34.4), (637.31, 37.2), (637.10, 23.1), (636.90, 13.2),
          (636.71, 12.1)]
LJ_ENV = [(646.52, 66.5), (646.33, 49.9), (645.91, 51.0), (645.44, 49.1), (644.78, 45.7), (644.31, 45.7),
          (643.83, 49.5), (643.36, 55.2), (642.89, 61.8), (642.42, 66.9), (641.95, 70.3), (641.48, 71.8),
          (641.0, 71.3), (640.53, 67.5), (640.15, 60.9), (639.78, 50.5), (639.4, 37.2), (639.02, 26.8),
          (638.64, 20.2), (638.17, 17.8), (637.7, 17.0), (637.23, 15.9), (636.76, 13.2), (636.66, 12.1)]
LJ_P1 = [(646.52, 60.0), (646.38, 42.0), (645.0, 41.0), (644.0, 40.0), (643.0, 37.8), (642.5, 34.8),
         (642.0, 32.5), (641.75, 31.5), (641.5, 31.8), (641.25, 33.5), (641.0, 36.3), (640.75, 40.5),
         (640.5, 44.0), (640.25, 46.4), (640.1, 46.7), (639.9, 45.8), (639.7, 42.5), (639.5, 37.5),
         (639.25, 31.5), (639.0, 25.8), (638.75, 21.8), (638.5, 19.6), (638.25, 18.4), (638.0, 17.5),
         (637.5, 16.5), (637.0, 15.0), (636.7, 12.5)]
LJ_P2 = [(646.38, 42.0), (645.0, 41.0), (644.0, 40.0), (643.5, 39.0), (643.0, 37.5), (642.75, 37.0),
         (642.5, 36.5), (642.25, 38.5), (642.0, 42.8), (641.75, 48.0), (641.5, 52.2), (641.25, 55.0),
         (641.05, 55.6), (640.85, 54.7), (640.6, 52.0), (640.4, 47.0), (640.2, 41.0), (640.0, 34.5),
         (639.8, 28.5), (639.6, 24.0), (639.3, 21.2), (639.0, 20.0), (638.5, 19.0), (638.0, 17.5),
         (637.0, 15.0), (636.7, 12.5)]
LJ_P3 = [(646.38, 42.0), (645.0, 41.0), (644.0, 40.0), (643.5, 39.2), (643.25, 40.5), (643.0, 43.5),
         (642.75, 47.5), (642.5, 51.5), (642.25, 54.5), (642.1, 55.2), (641.9, 54.5), (641.7, 51.5),
         (641.5, 46.5), (641.25, 40.5), (641.0, 35.3), (640.75, 31.0), (640.5, 27.5), (640.25, 24.8),
         (640.0, 23.0), (639.6, 21.2), (639.0, 20.0), (638.0, 17.5), (637.0, 15.0), (636.7, 12.5)]
LJ_P4 = [(646.38, 42.0), (645.0, 41.0), (644.5, 40.5), (644.25, 41.2), (644.0, 42.5), (643.75, 44.5),
         (643.5, 46.8), (643.25, 48.5), (643.05, 49.3), (642.8, 48.7), (642.6, 47.2), (642.4, 44.8),
         (642.2, 41.5), (642.0, 38.0), (641.75, 34.5), (641.5, 31.8), (641.25, 30.0), (641.0, 28.7),
         (640.5, 25.3), (640.0, 23.0), (639.5, 21.0), (639.0, 20.0), (638.0, 17.5), (637.0, 15.0),
         (636.7, 12.5)]
LJ_P5 = [(646.52, 58.0), (646.38, 42.9), (645.5, 42.2), (645.0, 42.0), (644.75, 42.9), (644.5, 43.8),
         (644.25, 44.4), (644.0, 44.8), (643.75, 43.8), (643.5, 41.8), (643.25, 39.8), (643.0, 37.8),
         (642.5, 35.0), (642.0, 32.5), (641.5, 30.0), (641.0, 28.0), (640.5, 25.2), (640.0, 23.0),
         (639.5, 21.0), (639.0, 20.0), (638.0, 17.5), (637.0, 15.0), (636.7, 12.5)]
LJ_P6 = [(646.38, 42.0), (645.5, 41.3), (645.0, 40.8), (644.5, 40.6), (644.0, 40.3), (643.5, 38.5),
         (643.0, 37.2), (642.5, 35.0), (642.0, 33.0), (641.5, 30.2), (641.0, 28.0), (640.5, 25.2),
         (640.0, 23.0), (639.5, 21.0), (639.0, 20.0), (638.5, 19.0), (638.0, 17.5), (637.5, 16.5),
         (637.0, 15.0), (636.7, 12.5)]
LJ_BKG = [(646.38, 42.0), (644.31, 40.1), (643.36, 38.2), (642.42, 34.4), (641.48, 29.7), (640.53, 25.0),
          (639.59, 21.2), (638.64, 18.9), (637.7, 17.0), (636.76, 13.2)]

M_EXP = [(536.50, 12.5), (536.39, 19.9), (536.26, 16.0), (536.14, 15.4), (536.07, 8.3), (535.98, 6.4),
         (535.86, 16.6), (535.74, 15.1), (535.65, 6.4), (535.57, 1.9), (535.46, 16.0), (535.35, 17.4),
         (535.25, 7.3), (535.13, 18.5), (535.04, 16.0), (534.92, 15.1), (534.80, 17.0), (534.66, 16.0),
         (534.52, 11.2), (534.38, 7.3), (534.28, 18.0), (534.19, 26.6), (534.04, 20.8), (533.90, 27.6),
         (533.81, 23.7), (533.69, 30.1), (533.57, 29.0), (533.43, 35.3), (533.31, 39.2), (533.20, 42.5),
         (533.06, 48.3), (532.96, 48.8), (532.82, 45.6), (532.68, 44.0), (532.54, 46.9), (532.40, 52.1),
         (532.31, 57.9), (532.17, 55.0), (532.08, 64.3), (532.00, 71.0), (531.89, 77.2), (531.75, 65.6),
         (531.63, 86.5), (531.51, 83.6), (531.37, 83.0), (531.28, 71.0), (531.21, 84.9), (531.06, 90.7),
         (530.95, 74.9), (530.84, 66.8), (530.69, 67.6), (530.58, 79.2), (530.46, 62.4), (530.31, 73.0),
         (530.18, 69.5), (530.03, 71.0), (529.87, 62.9), (529.78, 45.0), (529.63, 36.3), (529.49, 32.4),
         (529.37, 21.8), (529.26, 21.8), (529.11, 27.6), (528.97, 17.0), (528.83, 18.0), (528.69, 8.3),
         (528.58, 19.3), (528.45, 18.0), (528.33, 6.4), (528.20, 13.1), (528.05, 7.7), (527.95, 18.0),
         (527.92, 5.4), (527.76, 5.8), (527.66, 9.3), (527.54, 10.2), (527.45, 10.2)]
M_ENV = [(536.5, 12.5), (536.0, 12.4), (535.5, 12.5), (535.0, 13.0), (534.5, 14.5), (534.0, 18.0),
         (533.75, 21.5), (533.5, 26.0), (533.25, 32.0), (533.0, 38.5), (532.75, 45.0), (532.5, 51.5),
         (532.25, 58.5), (532.0, 65.0), (531.75, 71.0), (531.5, 76.0), (531.25, 79.0), (531.05, 80.0),
         (530.8, 79.0), (530.6, 76.5), (530.4, 71.5), (530.2, 64.5), (530.0, 56.0), (529.75, 44.5),
         (529.5, 33.5), (529.25, 24.0), (529.0, 17.0), (528.75, 12.0), (528.5, 8.8), (528.25, 7.2),
         (528.0, 6.5), (527.8, 6.2), (527.6, 7.0), (527.45, 9.5)]
M_O1 = [(536.5, 12.5), (535.0, 12.5), (534.0, 13.0), (533.5, 14.0), (533.0, 16.5), (532.75, 19.0),
        (532.5, 23.0), (532.25, 29.0), (532.0, 36.5), (531.75, 44.0), (531.5, 52.0), (531.25, 58.5),
        (531.0, 63.5), (530.8, 65.5), (530.6, 65.0), (530.4, 62.0), (530.2, 57.5), (530.0, 52.0),
        (529.75, 42.5), (529.5, 32.5), (529.25, 23.5), (529.0, 16.5), (528.75, 11.5), (528.5, 8.5),
        (528.25, 7.0), (528.0, 6.0), (527.8, 5.8)]
M_O2 = [(536.5, 12.5), (535.0, 12.5), (534.5, 13.5), (534.0, 17.0), (533.75, 20.0), (533.5, 24.5),
        (533.25, 29.5), (533.0, 33.5), (532.75, 36.5), (532.5, 38.0), (532.25, 38.0), (532.0, 36.0),
        (531.75, 33.0), (531.5, 29.0), (531.25, 25.0), (531.0, 21.0), (530.5, 15.0), (530.0, 11.0),
        (529.5, 8.5), (529.0, 7.0), (528.5, 6.2), (528.0, 6.0), (527.8, 6.0)]
M_BKG = [(534.3, 12.4), (533.0, 12.4), (532.5, 11.2), (531.5, 9.3), (530.5, 7.7), (529.5, 6.4),
         (528.5, 5.8), (528.0, 6.0)]

COL_TITLES = ["Cd–3d$_{\\mathrm{5/2}}$", "Te–3d$_{\\mathrm{5/2}}$", "O–1s"]
ROW_TITLES = ["CT1", "CT2", "CT3", "CT4", "ZT"]
TE_LABELS = ["exp.", "Te1", "Te2", "env.", "bkg"]
O_LABELS = ["exp.", "O1", "O2", "env.", "bkg"]
CD_LABELS = ["exp.", "env.", "bkg"]
MN_LABELS = ["1", "2", "3", "4", "5", "6"]

# ---------------- drawing ----------------
sns.set_theme(style="ticks")
plt.rcParams["font.family"] = ["Liberation Sans", "DejaVu Sans"]
plt.rcParams["mathtext.fontset"] = "custom"
plt.rcParams["mathtext.rm"] = "Liberation Serif"
plt.rcParams["mathtext.sf"] = "Liberation Sans"
SERIF = ["Liberation Serif", "DejaVu Serif"]

RED, GREEN, BLUE = "#ff1a1a", "#22dd22", "#2222ff"
MN_COLORS = ["#33dd33", "#2b2bff", "#9a2cf0", "#ff33ff", "#8b8b00", "#b060b0"]
BKG_LS = (0, (2.5, 2.5))

W, H = 1305, 1173
fig = plt.figure(figsize=(W / 100, H / 100), dpi=100)


def axes_at(box):
    x0, y0, x1, y1 = box
    return fig.add_axes([x0 / W, 1 - y1 / H, (x1 - x0) / W, (y1 - y0) / H])


def grid(rng, vals):
    return list(zip(np.linspace(rng[0], rng[1], len(vals)), vals))


def line(ax, pts, color, lw=1.0, ls="-", z=3):
    x, y = zip(*pts)
    sns.lineplot(x=list(x), y=list(y), ax=ax, color=color, linewidth=lw, linestyle=ls,
                 estimator=None, sort=False, legend=False, zorder=z)


def exp_points(ax, pts, ms, lw=0.8):
    x, y = zip(*pts)
    sns.lineplot(x=list(x), y=list(y), ax=ax, color="black", linewidth=lw, marker="o",
                 markersize=ms, markeredgecolor="black", markeredgewidth=0.4,
                 estimator=None, sort=False, legend=False, zorder=2)


def style(ax, xlim, ticks, tick_labels=None, minor=1.0):
    ax.set_xlim(*xlim)
    ax.set_ylim(0, 100)
    ax.set_xticks(ticks)
    if tick_labels is not None:
        ax.set_xticklabels(tick_labels)
    if minor:
        ax.xaxis.set_minor_locator(MultipleLocator(minor))
    ax.yaxis.set_major_locator(FixedLocator(np.arange(4, 100, 20)))
    ax.yaxis.set_minor_locator(FixedLocator(np.arange(14, 100, 20)))
    ax.set_xlabel("")
    ax.set_ylabel("")
    ax.tick_params(axis="x", which="both", direction="out", length=3, width=0.8, color="#555555",
                   labelsize=12.5, pad=2, labelcolor="#222222", labelfontfamily="Liberation Serif")
    ax.tick_params(axis="y", which="both", direction="in", length=3, width=0.8, color="#555555",
                   labelleft=False)
    for s in ax.spines.values():
        s.set_visible(True)
        s.set_color("#555555")
        s.set_linewidth(1.0)


def panel_label(ax, text, dx, dy):
    ax.annotate(text, xy=(0, 1), xycoords="axes fraction", xytext=(dx, -dy),
                textcoords="offset pixels", ha="left", va="center", fontsize=14,
                family=SERIF, color="#222222")


def legend(ax, handles, labels, hx, ry, spacing, hl, fs, ncol=1, colspace=1.0):
    fs_px = fs * 100 / 72
    return ax.legend(handles, labels, loc="upper left", ncol=ncol,
                     bbox_to_anchor=(hx / W, 1 - (ry - 0.47 * fs_px) / H), bbox_transform=fig.transFigure,
                     frameon=False, fontsize=fs, handlelength=hl / fs_px, handletextpad=0.35,
                     labelspacing=max(spacing / fs_px - 0.94, 0.05), borderpad=0, borderaxespad=0,
                     numpoints=1, columnspacing=colspace, labelcolor="#222222")


def h_exp(ms):
    return Line2D([], [], color="black", lw=1.0, marker="o", markersize=ms)


def h_line(color):
    return Line2D([], [], color=color, lw=1.2)


H_BKG = Line2D([], [], color="#222222", lw=1.0, linestyle=(0, (1.2, 4)))

# ---- column 1: Cd 3d5/2 ----
cd_panels = [
    ("(а)", (80, 55, 438, 229), (409.0, 402.0), [408, 406, 404, 402], grid(A_RANGE, A_EXP), A_ENV, A_BKG, (8, 23), (350, 93, 23.5)),
    ("(б)", (81, 269, 437, 440), (409.0, 402.0), [408, 406, 404, 402], grid(B_RANGE, B_EXP), B_ENV, B_BKG, (7, 19), (353, 307, 22.5)),
    ("(в)", (79, 487, 437, 658), (411.0, 404.0), [410, 408, 406, 404], grid(V_RANGE, V_EXP), V_ENV, V_BKG, (11, 26), (357, 527, 22)),
    ("(г)", (77, 700, 434, 873), (408.0, 402.0), [408, 406, 404, 402], grid(G_RANGE, G_EXP), G_ENV, G_BKG, (10, 23), (352, 738, 22.5)),
    ("(д)", (72, 913, 427, 1083), (1026.0, 1018.0), [1026, 1024, 1022, 1020, 1018], D_EXP, D_ENV, D_BKG, (5, 22), (355, 962, 23)),
]
for lab, box, xlim, ticks, exp, env, bkg, (dx, dy), (hx, ry, sp) in cd_panels:
    ax = axes_at(box)
    exp_points(ax, exp, 7.0)
    line(ax, bkg, "#222222", 1.0, BKG_LS)
    line(ax, env, RED, 1.0, z=4)
    style(ax, xlim, ticks)
    panel_label(ax, lab, dx, dy)
    legend(ax, [h_exp(8.5), h_line(RED), H_BKG], CD_LABELS, hx, ry, sp, 32, 10.5)
    if lab == "(д)":
        ax.text(285 / W, 1 - 938 / H, "Zn 2p$_{\\mathsf{3/2}}$", transform=fig.transFigure,
                fontsize=12, ha="left", va="center", color="#222222")

# ---- column 2: Te 3d5/2 ----
te_panels = [
    ("(ђ)", (480, 56, 837, 231), (579.05, 569.27), [578, 576, 574, 572, 570], grid(DJ_RANGE, DJ_EXP), DJ_TE1, DJ_TE2, DJ_ENV, DJ_BKG, (7, 12), (597, 71, 23, 26)),
    ("(е)", (482, 273, 837, 446), (579.0, 569.5), [578, 576, 574, 572, 570], E_EXP, E_TE1, E_TE2, E_ENV, E_BKG, (10, 15), (772, 293, 23, 25)),
    ("(ж)", (481, 485, 836, 663), (582.0, 570.0), [582, 580, 578, 576, 574, 572, 570], grid(ZH_RANGE, ZH_EXP), ZH_TE1, ZH_TE2, ZH_ENV, ZH_BKG, (7, 20), (770, 512, 22.5, 24)),
    ("(з)", (475, 701, 831, 873), (579.1, 567.93), [578, 576, 574, 572, 570, 568], grid(Z_RANGE, Z_EXP), Z_TE1, Z_TE2, Z_ENV, Z_BKG, (12, 18), (762, 726, 27.7, 26)),
    ("(и)", (476, 908, 831, 1082), (580.0, 569.64), [580, 578, 576, 574, 572, 570], I_EXP, I_TE1, I_TE2, I_ENV, I_BKG, (7, 20), (763, 932, 23, 25)),
]
for lab, box, xlim, ticks, exp, te1, te2, env, bkg, (dx, dy), (hx, ry, sp, hl) in te_panels:
    ax = axes_at(box)
    exp_points(ax, exp, 6.0)
    line(ax, bkg, "#222222", 0.9, BKG_LS)
    line(ax, te2, BLUE, 1.0)
    line(ax, te1, GREEN, 1.0)
    line(ax, env, RED, 1.0, z=4)
    style(ax, xlim, ticks)
    panel_label(ax, lab, dx, dy)
    legend(ax, [h_exp(6.5), h_line(GREEN), h_line(BLUE), h_line(RED), H_BKG], TE_LABELS, hx, ry, sp, hl, 9.5)

# ---- column 3: O 1s (and Mn 2p3/2) ----
o_panels = [
    ("(j)", (874, 55, 1226, 231), (535.07, 527.93), J_EXP, J_O1, J_O2, J_ENV, J_BKG, (6, 18), (903, 73, 20, 24, 8.5)),
    ("(к)", (874, 274, 1226, 449), (536.0, 526.95), K_EXP, K_O1, K_O2, K_ENV, K_BKG, (8, 21), (1153, 297, 23, 27, 10)),
    ("(л)", (868, 486, 1226, 662), (537.0, 529.06), L_EXP, L_O1, L_O2, L_ENV, L_BKG, (7, 21), (1152, 513, 23.4, 26, 10)),
    ("(м)", (870, 917, 1224, 1089), (536.97, 526.97), M_EXP, M_O1, M_O2, M_ENV, M_BKG, (8, 20), (1158, 940, 23, 25, 10)),
]
o_ticks = {
    "(j)": ([534, 532.54, 529.67, 528], ["534", "532", "530", "528"], 0),
    "(к)": ([536, 534, 532, 530, 528], None, 1.0),
    "(л)": ([536, 534, 532, 530], None, 1.0),
    "(м)": ([536, 534, 532, 530, 528], None, 1.0),
}
for lab, box, xlim, exp, o1, o2, env, bkg, (dx, dy), (hx, ry, sp, hl, fs) in o_panels:
    ax = axes_at(box)
    exp_points(ax, exp, 5.5, 0.9)
    line(ax, bkg, "#222222", 0.9, BKG_LS)
    line(ax, o2, BLUE, 1.0)
    line(ax, o1, GREEN, 1.0)
    line(ax, env, RED, 1.0, z=4)
    ticks, tlabels, minor = o_ticks[lab]
    style(ax, xlim, ticks, tlabels, minor)
    panel_label(ax, lab, dx, dy)
    legend(ax, [h_exp(6), h_line(GREEN), h_line(BLUE), h_line(RED), H_BKG], O_LABELS, hx, ry, sp, hl, fs)

# Mn 2p3/2 panel
ax = axes_at((872, 701, 1227, 877))
exp_points(ax, LJ_EXP, 5.5, 0.9)
line(ax, LJ_BKG, "#222222", 0.9, BKG_LS)
for pts, c in zip([LJ_P6, LJ_P5, LJ_P4, LJ_P3, LJ_P2, LJ_P1], MN_COLORS[::-1]):
    line(ax, pts, c, 1.0)
line(ax, LJ_ENV, RED, 1.0, z=4)
style(ax, (646.52, 636.45), [646, 644, 642, 640, 638])
panel_label(ax, "(љ)", 8, 21)
leg_main = legend(ax, [h_exp(6), h_line(RED), H_BKG], CD_LABELS, 1152, 736, 19.5, 24, 10)
ax.add_artist(leg_main)
legend(ax, [h_line(c) for c in MN_COLORS], MN_LABELS, 885, 824, 14, 25, 7, ncol=2, colspace=1.3)
fig.text(1090 / W, 1 - 718 / H, "Mn 2p$_{\\mathsf{3/2}}$", fontsize=12, ha="center", va="center",
         color="#222222")

# titles and axis captions
for x, t in zip([258, 645, 1053], COL_TITLES):
    fig.text(x / W, 1 - 28 / H, t, fontsize=17, family=SERIF, ha="center", va="center", color="#222222")
for (x, y), t in zip([(1273, 143), (1276, 358), (1273, 575), (1273, 785), (1265, 997)], ROW_TITLES):
    fig.text(x / W, 1 - y / H, t, fontsize=18, family=SERIF, ha="center", va="center", color="#222222")
fig.text(35 / W, 1 - 590 / H, "Интензитет", rotation=90, fontsize=21, family=SERIF,
         ha="center", va="center", color="#222222")
fig.text(640 / W, 1 - 1157 / H, "Енергија везе (eV)", fontsize=19, family=SERIF,
         ha="center", va="center", color="#222222")

fig.savefig("out.png", dpi=100)
